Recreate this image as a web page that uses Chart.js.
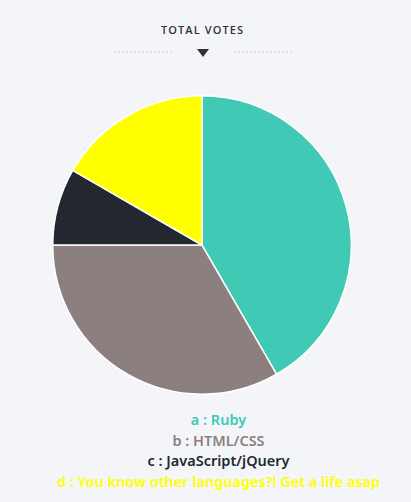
<!DOCTYPE html>
<html>
<head>
<meta charset="utf-8">
<script src="https://cdn.jsdelivr.net/npm/chart.js@4"></script>
<style>
  html, body { margin: 0; padding: 0; background: #f4f5f9; width: 411px; height: 502px; overflow: hidden; }
  #title { position: absolute; top: 22px; left: 0; width: 405px; text-align: center; font-family: "Open Sans", "DejaVu Sans", sans-serif; font-weight: 600; font-size: 11px; letter-spacing: 1.1px; color: #333; }
  .dots { position: absolute; top: 51px; height: 0; border-top: 2px dotted #e2e3e8; }
  #arrow { position: absolute; top: 49px; left: 197px; width: 0; height: 0; border-left: 6px solid transparent; border-right: 6px solid transparent; border-top: 8px solid #333; }
  #wrap { position: absolute; left: 52px; top: 95px; width: 300px; height: 300px; }
  #legend { position: absolute; top: 409px; left: 0; width: 437px; text-align: center; font-family: "Noto Sans", "DejaVu Sans", sans-serif; font-weight: 600; font-size: 14.5px; line-height: 20.7px; }
</style>
</head>
<body>
<div id="title">TOTAL VOTES</div>
<div class="dots" style="left:114px; width:58px;"></div>
<div class="dots" style="left:234px; width:58px;"></div>
<div id="arrow"></div>
<div id="wrap"><canvas id="c"></canvas></div>
<div id="legend"></div>
<script>
const keys = ["a", "b", "c", "d"];
const categories = ["Ruby", "HTML/CSS", "JavaScript/jQuery", "You know other languages?! Get a life asap"];
const votes = [5, 4, 1, 2];
const colors = ["#40c9b4", "#8c7f7f", "#232830", "#ffff00"];

new Chart(document.getElementById("c"), {
  type: "pie",
  data: {
    labels: categories,
    datasets: [{ data: votes, backgroundColor: colors, borderColor: "#ffffff", borderWidth: 1.5 }]
  },
  options: {
    responsive: true,
    maintainAspectRatio: false,
    animation: false,
    layout: { padding: 0 },
    plugins: { legend: { display: false }, tooltip: { enabled: false } }
  }
});

const legend = document.getElementById("legend");
categories.forEach((c, i) => {
  const d = document.createElement("div");
  d.textContent = keys[i] + " : " + c;
  d.style.color = colors[i];
  legend.appendChild(d);
});
</script>
</body>
</html>
